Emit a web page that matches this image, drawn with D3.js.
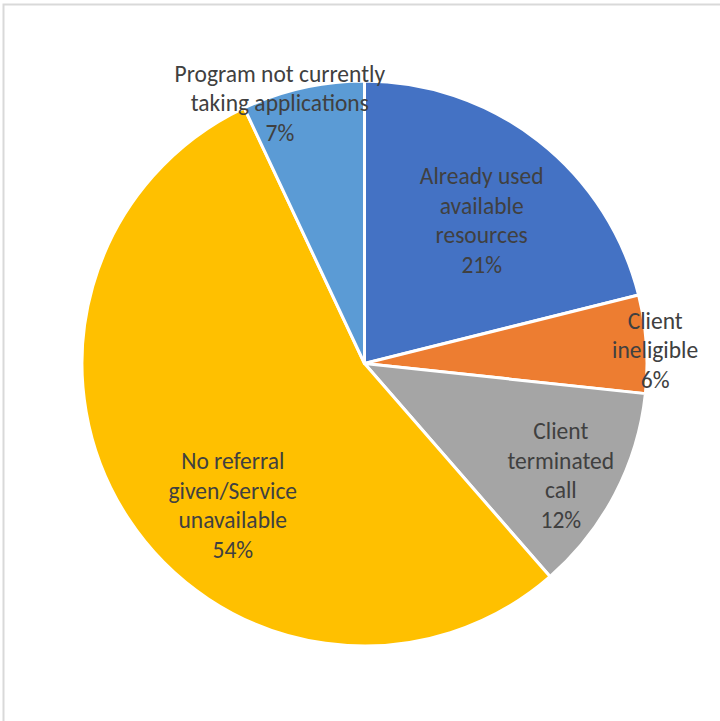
<!DOCTYPE html>
<html><head><meta charset="utf-8">
<script src="https://cdn.jsdelivr.net/npm/d3@7"></script>
<style>
html,body{margin:0;padding:0;background:#fff;}
svg{display:block;}
</style></head>
<body>
<svg id="chart" width="720" height="721"></svg>
<script>
const categories = ["Already used available resources","Client ineligible","Client terminated call","No referral given/Service unavailable","Program not currently taking applications"];
const labelLines = [
  ["Already used","available","resources"],
  ["Client","ineligible"],
  ["Client","terminated","call"],
  ["No referral","given/Service","unavailable"],
  ["Program not currently","taking applications"]
];
const values = [21.1, 5.6, 11.9, 54.4, 7.0];
const colors = ["#4472C4","#ED7D31","#A5A5A5","#FFC000","#5B9BD5"];

// label layout: polar position (degrees clockwise from top, fraction of radius)
const labelAngle = [39.3, 87.3, 119.7, 222.9, 342.0];
const labelRadius = [0.655, 1.03, 0.80, 0.685, 0.97];

const svg = d3.select("#chart");
const W = 720, H = 721;
svg.append("rect").attr("x",3.5).attr("y",4.5).attr("width",W+10).attr("height",H+10)
  .attr("fill","#fff").attr("stroke","#d9d9d9").attr("stroke-width",2);

const cx = 364.5, cy = 363.5, R = 282.5;
const g = svg.append("g").attr("transform",`translate(${cx},${cy})`);

const total = d3.sum(values);
const pie = d3.pie().sort(null).value(d=>d)(values);
const arc = d3.arc().innerRadius(0).outerRadius(R);

g.selectAll("path").data(pie).join("path")
  .attr("d",arc)
  .attr("fill",(d,i)=>colors[i])
  .attr("stroke","#fff").attr("stroke-width",3).attr("stroke-linejoin","round");

const fs = 23.5, lh = 29.5;
pie.forEach((d,i)=>{
  const a = labelAngle[i]*Math.PI/180, r = labelRadius[i]*R;
  const x = Math.sin(a)*r, y = -Math.cos(a)*r;
  const lines = labelLines[i].concat([Math.round(values[i]/total*100)+"%"]);
  const t = g.append("text").attr("text-anchor","middle")
    .attr("font-family","Carlito, Calibri, Lato, sans-serif").attr("font-size",fs).attr("fill","#404040");
  const n = lines.length;
  lines.forEach((ln,k)=>{
    t.append("tspan").attr("x",x).attr("y",y + (k-(n-1)/2)*lh).attr("dy","0.35em").text(ln);
  });
});
</script>
</body></html>
